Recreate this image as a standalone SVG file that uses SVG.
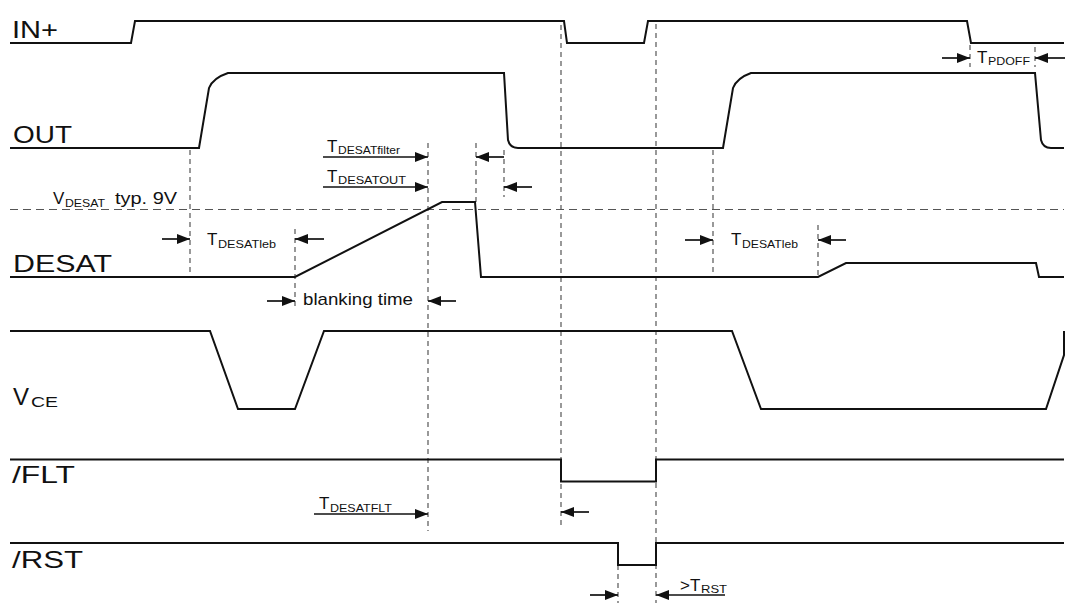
<svg xmlns="http://www.w3.org/2000/svg" width="1080" height="614" viewBox="0 0 1080 614">
<defs>
<style>
.sig{fill:none;stroke:#111;stroke-width:2;stroke-linejoin:miter}
.guide{fill:none;stroke:#555;stroke-width:1.2;stroke-dasharray:5 4}
.hguide{fill:none;stroke:#555;stroke-width:1.2;stroke-dasharray:8 5}
.arr{fill:none;stroke:#111;stroke-width:1.7;marker-end:url(#ah)}
.lbl{font-family:"Liberation Sans",Arial,sans-serif;font-size:24px;fill:#111}
.t{font-family:"Liberation Sans",Arial,sans-serif;font-size:17px;fill:#111}
.s{font-family:"Liberation Sans",Arial,sans-serif;font-size:11px;fill:#111}
.m{font-family:"Liberation Sans",Arial,sans-serif;font-size:17px;fill:#111}
</style>
<marker id="ah" viewBox="0 0 13 10" refX="13" refY="5" markerWidth="13" markerHeight="10" markerUnits="userSpaceOnUse" orient="auto">
<path d="M0,0 L13,5 L0,10 Z" fill="#111"/>
</marker>
</defs>
<rect width="1080" height="614" fill="#fff"/>

<g id="guides">
<line class="hguide" x1="10" y1="209.5" x2="1064" y2="209.5"/>
<line class="guide" x1="190" y1="150" x2="190" y2="277"/>
<line class="guide" x1="295" y1="229" x2="295" y2="310"/>
<line class="guide" x1="428" y1="143" x2="428" y2="531"/>
<line class="guide" x1="476" y1="143" x2="476" y2="202"/>
<line class="guide" x1="504" y1="150" x2="504" y2="197"/>
<line class="guide" x1="561" y1="25" x2="561" y2="525"/>
<line class="guide" x1="656" y1="24" x2="656" y2="603"/>
<line class="guide" x1="618" y1="565" x2="618" y2="603"/>
<line class="guide" x1="713" y1="150" x2="713" y2="277"/>
<line class="guide" x1="818" y1="225" x2="818" y2="277"/>
<line class="guide" x1="970" y1="45" x2="970" y2="67"/>
<line class="guide" x1="1035" y1="47" x2="1035" y2="67"/>
</g>

<g id="sig-in">
<path class="sig" d="M10,43 L131,43 L135,21 L564,21 L567,43 L644,43 L648,21 L967,21 L971,43 L1064,43"/>
<text class="lbl" x="12" y="38" textLength="46" lengthAdjust="spacingAndGlyphs">IN+</text>
</g>

<g id="sig-out">
<path class="sig" d="M10,148 L199,148 L209,88 Q213,78 228,73 L504,73 L508,140 Q510,148 518,148 L723,148 L733,88 Q737,78 751,73 L1035,73 L1041,140 Q1043,148 1051,148 L1064,148"/>
<text class="lbl" x="13" y="143" textLength="59" lengthAdjust="spacingAndGlyphs">OUT</text>
</g>

<g id="sig-desat">
<path class="sig" d="M10,277 L295,277 L442,202 L475,202 L481,277 L818,277 L846,263 L1036,263 L1039,277 L1064,277"/>
<text class="lbl" x="13" y="272" textLength="99" lengthAdjust="spacingAndGlyphs">DESAT</text>
</g>

<g id="sig-vce">
<path class="sig" d="M10,331 L210,331 L238,409 L295,409 L324,331 L732,331 L761,409 L1046,409 L1064,355 L1064,331"/>
<text class="lbl" x="13" y="404.5">V</text>
<text x="31" y="407" font-family="Liberation Sans, Arial, sans-serif" font-size="15" fill="#111" textLength="27" lengthAdjust="spacingAndGlyphs">CE</text>
</g>

<g id="sig-flt">
<path class="sig" d="M10,459.5 L561,459.5 L561,481.5 L656,481.5 L656,459.5 L1064,459.5"/>
<text class="lbl" x="12" y="483" textLength="63" lengthAdjust="spacingAndGlyphs">/FLT</text>
</g>

<g id="sig-rst">
<path class="sig" d="M10,543 L618,543 L618,565 L656,565 L656,543 L1064,543"/>
<text class="lbl" x="12" y="567.5" textLength="71" lengthAdjust="spacingAndGlyphs">/RST</text>
</g>

<g id="connectors">
<line class="arr" x1="162" y1="239" x2="190" y2="239"/>
<line class="arr" x1="324" y1="239" x2="295" y2="239"/>
<line class="arr" x1="267" y1="301" x2="295" y2="301"/>
<line class="arr" x1="456" y1="301" x2="428" y2="301"/>
<line class="arr" x1="323" y1="157" x2="428" y2="157"/>
<line class="arr" x1="504" y1="157" x2="476" y2="157"/>
<line class="arr" x1="323" y1="187" x2="428" y2="187"/>
<line class="arr" x1="532" y1="187" x2="504" y2="187"/>
<line class="arr" x1="685" y1="240" x2="713" y2="240"/>
<line class="arr" x1="846" y1="240" x2="818" y2="240"/>
<line class="arr" x1="942" y1="58" x2="970" y2="58"/>
<line class="arr" x1="1065" y1="58" x2="1035" y2="58"/>
<line class="arr" x1="314" y1="514" x2="428" y2="514"/>
<line class="arr" x1="589" y1="512" x2="561" y2="512"/>
<line class="arr" x1="590" y1="595" x2="618" y2="595"/>
<line class="arr" x1="725" y1="595" x2="656" y2="595"/>
</g>

<g id="annotations">
<text class="m" x="53" y="204">V</text>
<text class="s" x="65" y="207" textLength="40" lengthAdjust="spacingAndGlyphs">DESAT</text>
<text class="m" x="115" y="204" textLength="62" lengthAdjust="spacingAndGlyphs">typ. 9V</text>

<text class="t" x="327" y="152">T</text>
<text class="s" x="338" y="153.5" textLength="62" lengthAdjust="spacingAndGlyphs">DESATfilter</text>
<text class="t" x="327" y="182">T</text>
<text class="s" x="338" y="183.5" textLength="68" lengthAdjust="spacingAndGlyphs">DESATOUT</text>

<text class="t" x="207" y="245">T</text>
<text class="s" x="218" y="247.5" textLength="58" lengthAdjust="spacingAndGlyphs">DESATleb</text>
<text class="t" x="731" y="245">T</text>
<text class="s" x="742" y="247.5" textLength="56" lengthAdjust="spacingAndGlyphs">DESATleb</text>

<text class="m" x="303" y="305" textLength="110" lengthAdjust="spacingAndGlyphs">blanking time</text>

<text class="t" x="319" y="509">T</text>
<text class="s" x="330" y="512" textLength="62" lengthAdjust="spacingAndGlyphs">DESATFLT</text>

<text class="t" x="977" y="63">T</text>
<text class="s" x="988" y="64.5" textLength="42" lengthAdjust="spacingAndGlyphs">PDOFF</text>

<text class="t" x="680" y="591">&gt;T</text>
<text class="s" x="701" y="592.5" textLength="26" lengthAdjust="spacingAndGlyphs">RST</text>
</g>
</svg>
